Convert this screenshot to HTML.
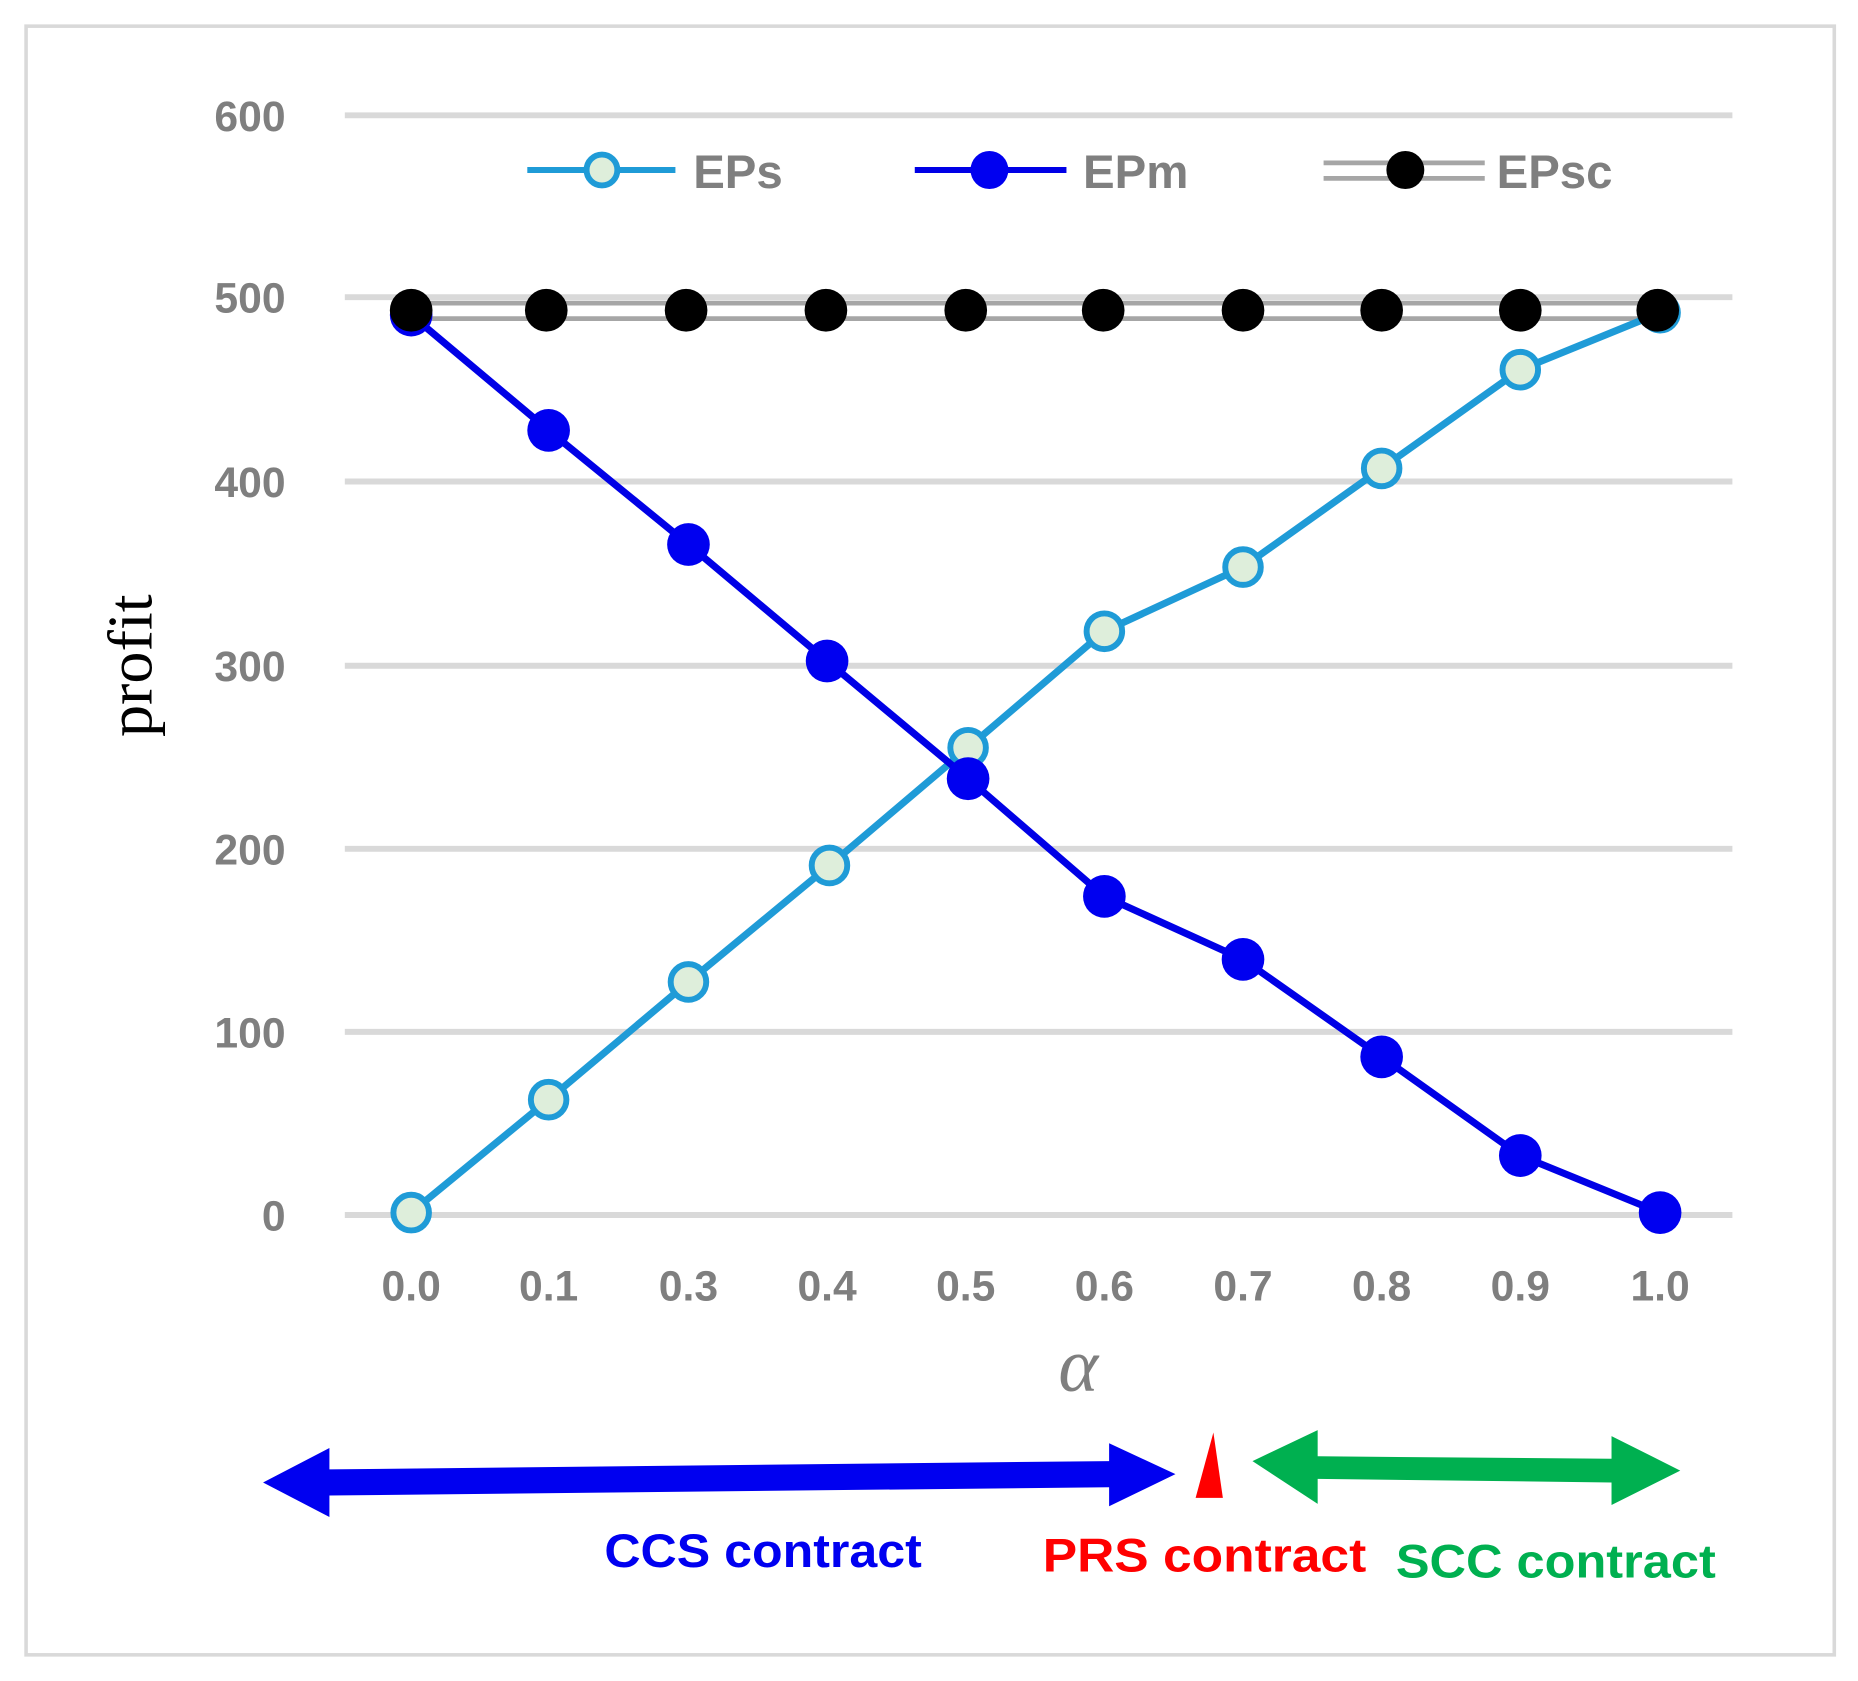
<!DOCTYPE html>
<html><head><meta charset="utf-8"><style>
html,body{margin:0;padding:0;background:#fff;}
svg{display:block;}
.t{font-family:"Liberation Sans",sans-serif;font-weight:bold;fill:#7f7f7f;font-size:36px;}
.l{font-family:"Liberation Sans",sans-serif;font-weight:bold;fill:#7f7f7f;font-size:40px;}
.c{font-family:"Liberation Sans",sans-serif;font-weight:bold;font-size:40px;}
</style></head><body>
<svg width="1858" height="1681" viewBox="0 0 1568 1414" preserveAspectRatio="none" xmlns="http://www.w3.org/2000/svg">
<rect x="0" y="0" width="1568" height="1414" fill="#fff"/>
<rect x="22" y="22" width="1526" height="1370" fill="none" stroke="#d9d9d9" stroke-width="3"/>
<g stroke="#d9d9d9" stroke-width="5">
<line x1="291" x2="1462" y1="97" y2="97"/><line x1="291" x2="1462" y1="250" y2="250"/>
<line x1="291" x2="1462" y1="405" y2="405"/><line x1="291" x2="1462" y1="560" y2="560"/>
<line x1="291" x2="1462" y1="714" y2="714"/><line x1="291" x2="1462" y1="868" y2="868"/>
<line x1="291" x2="1462" y1="1022" y2="1022"/>
</g>
<g class="t" text-anchor="end">
<text x="241" y="110">600</text><text x="241" y="263">500</text><text x="241" y="418">400</text>
<text x="241" y="573">300</text><text x="241" y="727">200</text><text x="241" y="881">100</text><text x="241" y="1035">0</text>
</g>
<g class="t" text-anchor="middle">
<text x="347" y="1094">0.0</text><text x="463" y="1094">0.1</text><text x="581" y="1094">0.3</text>
<text x="698" y="1094">0.4</text><text x="815" y="1094">0.5</text><text x="932" y="1094">0.6</text>
<text x="1049" y="1094">0.7</text><text x="1166" y="1094">0.8</text><text x="1283" y="1094">0.9</text><text x="1401" y="1094">1.0</text>
</g>
<text transform="translate(128,560) rotate(-90)" text-anchor="middle" font-family="Liberation Serif,serif" font-size="54">profit</text>
<text x="910" y="1170" text-anchor="middle" font-family="Liberation Serif,serif" font-style="italic" font-size="64" fill="#7f7f7f">α</text>
<g stroke="#a6a6a6" stroke-width="4"><line x1="347" x2="1401" y1="255" y2="255"/><line x1="347" x2="1401" y1="268" y2="268"/></g>
<polyline fill="none" stroke="#1f9bd7" stroke-width="6" points="347,1020 463,925 581,826 700,728 817,629 932,531 1049,477 1166,394 1283,311 1401,263"/>
<g fill="#deeedb" stroke="#1f9bd7" stroke-width="5">
<circle cx="347" cy="1020" r="15"/><circle cx="463" cy="925" r="15"/><circle cx="581" cy="826" r="15"/><circle cx="700" cy="728" r="15"/><circle cx="817" cy="629" r="15"/><circle cx="932" cy="531" r="15"/><circle cx="1049" cy="477" r="15"/><circle cx="1166" cy="394" r="15"/><circle cx="1283" cy="311" r="15"/><circle cx="1401" cy="263" r="15"/>
</g>
<polyline fill="none" stroke="#0000e6" stroke-width="6" points="347,265 463,362 581,458 698,556 817,655 932,754 1049,807 1166,889 1283,972 1401,1020"/>
<g fill="#0000f0">
<circle cx="347" cy="265" r="18"/><circle cx="463" cy="362" r="18"/><circle cx="581" cy="458" r="18"/><circle cx="698" cy="556" r="18"/><circle cx="817" cy="655" r="18"/><circle cx="932" cy="754" r="18"/><circle cx="1049" cy="807" r="18"/><circle cx="1166" cy="889" r="18"/><circle cx="1283" cy="972" r="18"/><circle cx="1401" cy="1020" r="18"/>
</g>
<g fill="#000">
<circle cx="347" cy="261" r="18"/><circle cx="461" cy="261" r="18"/><circle cx="579" cy="261" r="18"/><circle cx="697" cy="261" r="18"/><circle cx="815" cy="261" r="18"/><circle cx="931" cy="261" r="18"/><circle cx="1049" cy="261" r="18"/><circle cx="1166" cy="261" r="18"/><circle cx="1283" cy="261" r="18"/><circle cx="1399" cy="261" r="18"/>
</g>
<line x1="445" x2="570" y1="143" y2="143" stroke="#1f9bd7" stroke-width="5"/>
<circle cx="508" cy="143" r="13" fill="#deeedb" stroke="#1f9bd7" stroke-width="5"/>
<text class="l" x="585" y="158">EPs</text>
<line x1="772" x2="900" y1="143" y2="143" stroke="#0000e6" stroke-width="5"/>
<circle cx="835" cy="143" r="16" fill="#0000f0"/>
<text class="l" x="914" y="158">EPm</text>
<line x1="1117" x2="1253" y1="137" y2="137" stroke="#a6a6a6" stroke-width="4"/>
<line x1="1117" x2="1253" y1="150" y2="150" stroke="#a6a6a6" stroke-width="4"/>
<circle cx="1186" cy="143" r="16" fill="#000"/>
<text class="l" x="1263" y="158">EPsc</text>
<polygon fill="#0000f0" points="222,1247 278,1218 278,1236 936,1229 936,1214 992,1240 936,1267 936,1251 278,1258 278,1276"/>
<polygon fill="#ff0000" points="1024,1205 1032,1260 1009,1260"/>
<polygon fill="#00b050" points="1057,1229 1112,1203 1112,1225 1360,1227 1360,1208 1418,1237 1360,1266 1360,1247 1112,1244 1112,1265"/>
<text class="c" x="510" y="1318" fill="#0000f0" textLength="268" lengthAdjust="spacingAndGlyphs">CCS contract</text>
<text class="c" x="880" y="1322" fill="#ff0000" textLength="273" lengthAdjust="spacingAndGlyphs">PRS contract</text>
<text class="c" x="1178" y="1327" fill="#00b050" textLength="270" lengthAdjust="spacingAndGlyphs">SCC contract</text>
</svg>
</body></html>
